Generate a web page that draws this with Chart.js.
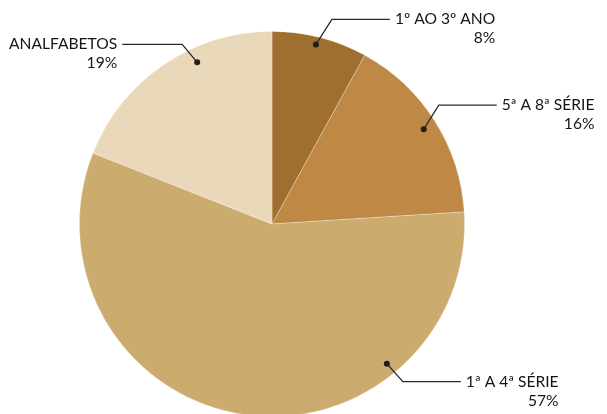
<!DOCTYPE html>
<html>
<head>
    <title>Escolaridade</title>
    <style>
        body {
            margin: 0;
            padding: 0;
            background: #fff;
            overflow: hidden;
        }

        .wrap {
            position: relative;
            width: 607px;
            height: 440px;
        }
    </style>
</head>
<body>
    <div class="wrap">
        <canvas id="pie" width="607" height="440"></canvas>
    </div>
    <script src="https://cdn.jsdelivr.net/npm/chart.js"></script>
    <script>
        var categories = ['1º AO 3º ANO', '5ª A 8ª SÉRIE', '1ª A 4ª SÉRIE', 'ANALFABETOS'];
        var percents = [8, 16, 57, 19];
        var colors = ['#9f6f30', '#bf8945', '#cbab6e', '#e9d8b9'];

        // where each callout dot sits: t = fraction along the slice, k = fraction of radius
        // elbow = offset of the bend from the dot, len = horizontal run (negative = to the left)
        var callouts = [
            { t: 0.477, k: 0.96,  elbow: [16, -25], len: 58 },
            { t: 0.507, k: 0.929, elbow: [15, -24], len: 58 },
            { t: 0.264, k: 0.939, elbow: [16, 18],  len: 58 },
            { t: 0.637, k: 0.925, elbow: [-15, -18], len: -60 }
        ];

        var calloutPlugin = {
            id: 'callouts',
            afterDraw: function(chart) {
                var ctx = chart.ctx;
                var arcs = chart.getDatasetMeta(0).data;
                ctx.save();
                ctx.font = '15.6px Lato';
                ctx.textBaseline = 'middle';
                arcs.forEach(function(arc, i) {
                    var c = callouts[i];
                    var p = arc.getProps(['x', 'y', 'startAngle', 'endAngle', 'outerRadius'], true);
                    var a = p.startAngle + c.t * (p.endAngle - p.startAngle);
                    var dx = p.x + Math.cos(a) * p.outerRadius * c.k;
                    var dy = p.y + Math.sin(a) * p.outerRadius * c.k;
                    var ex = dx + c.elbow[0];
                    var ey = dy + c.elbow[1];
                    var hx = ex + c.len;

                    ctx.strokeStyle = '#2b2b2b';
                    ctx.lineWidth = 1.3;
                    ctx.beginPath();
                    ctx.moveTo(dx, dy);
                    ctx.lineTo(ex, ey);
                    ctx.lineTo(hx, ey);
                    ctx.stroke();

                    ctx.fillStyle = '#1f1f1f';
                    ctx.beginPath();
                    ctx.arc(dx, dy, 3, 0, Math.PI * 2);
                    ctx.fill();

                    var label = categories[i];
                    var pct = percents[i] + '%';
                    var right;
                    if (c.len > 0) {
                        right = hx + 5 + ctx.measureText(label).width;
                    } else {
                        right = hx - 5;
                    }
                    ctx.fillStyle = '#161414';
                    ctx.textAlign = 'right';
                    ctx.fillText(label, right, ey);
                    ctx.fillText(pct, right, ey + 19);
                });
                ctx.restore();
            }
        };

        new Chart(document.getElementById('pie'), {
            type: 'pie',
            data: {
                labels: categories,
                datasets: [{
                    data: percents,
                    backgroundColor: colors,
                    borderColor: 'rgba(255, 255, 255, 0.35)',
                    borderWidth: 0.8
                }]
            },
            options: {
                responsive: false,
                animation: false,
                layout: {
                    padding: { top: 31, bottom: 23, left: 79, right: 142 }
                },
                plugins: {
                    legend: { display: false },
                    tooltip: { enabled: false }
                }
            },
            plugins: [calloutPlugin]
        });
    </script>
</body>
</html>
